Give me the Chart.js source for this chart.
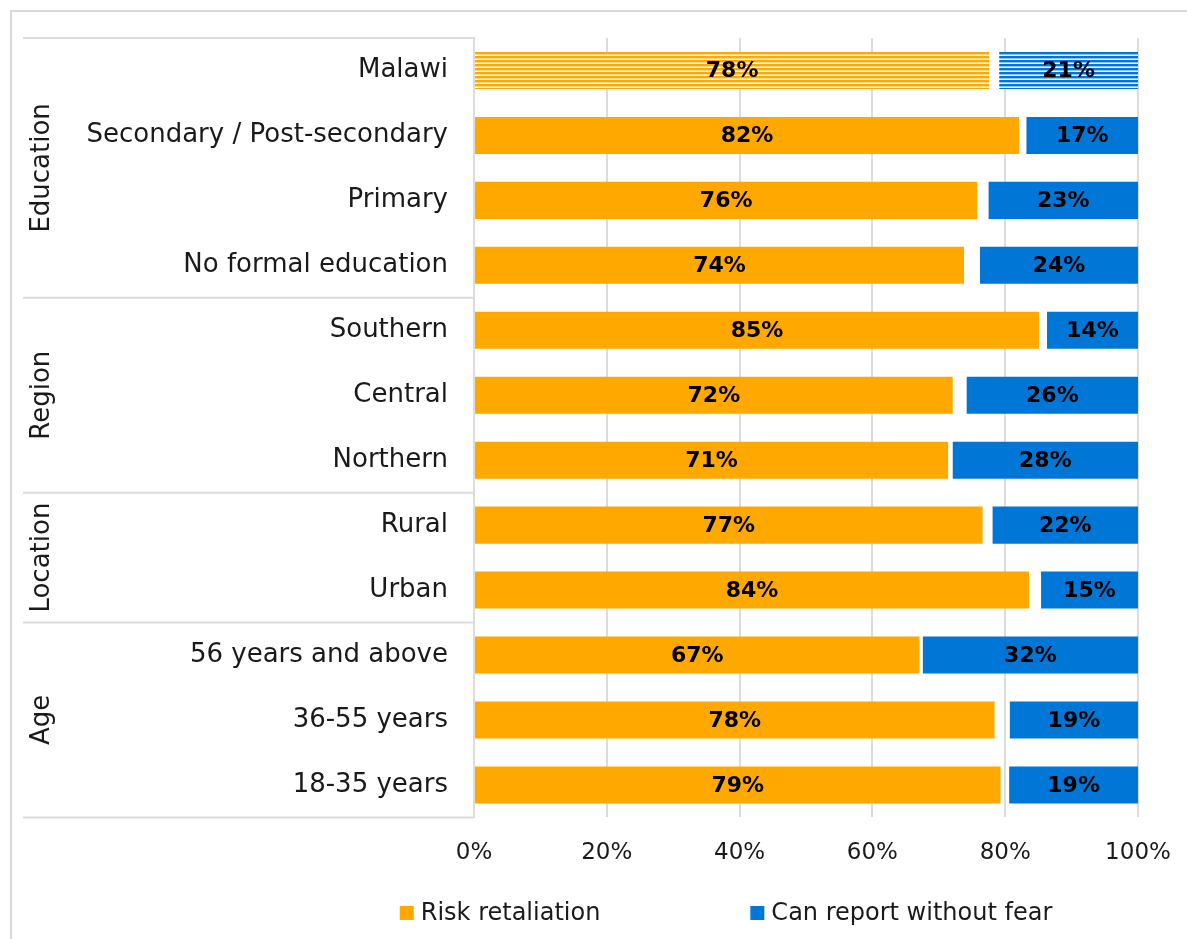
<!DOCTYPE html>
<html>
<head>
<meta charset="utf-8">
<script src="https://cdn.jsdelivr.net/npm/chart.js@4/dist/chart.umd.min.js"></script>
<style>
  html, body { margin: 0; padding: 0; background: #fff; overflow: hidden; }
  #wrap { width: 1187px; height: 939px; }
</style>
</head>
<body>
<div id="wrap"><canvas id="chart1" width="1187" height="939"></canvas></div>
<script>
const categories = [
    "Malawi",
    "Secondary / Post-secondary",
    "Primary",
    "No formal education",
    "Southern",
    "Central",
    "Northern",
    "Rural",
    "Urban",
    "56 years and above",
    "36-55 years",
    "18-35 years",
];
const riskRetaliation = [77.6, 82.1, 75.8, 73.8, 85.1, 72.1, 71.4, 76.6, 83.6, 67.1, 78.4, 79.3];
const reportWithoutFear = [20.9, 16.8, 22.5, 23.8, 13.7, 25.8, 27.9, 21.9, 14.6, 32.4, 19.3, 19.4];
const groupNames = ["Education", "Region", "Location", "Age"];
const groupSizes = [4, 3, 2, 3];
const xTicks = [0, 20, 40, 60, 80, 100];

const ORANGE = "#ffa900";
const BLUE = "#0077d6";
const GRID = "#dcdcdc";
const TEXT = "#1a1a1a";
const FONT = "'DejaVu Sans', sans-serif";

// striped fill for the national total bar
const stripes = (color) => {
    const c = document.createElement("canvas");
    c.width = 4;
    c.height = 4;
    const g = c.getContext("2d");
    g.fillStyle = "#ffffff";
    g.fillRect(0, 0, 4, 4);
    g.fillStyle = color;
    g.fillRect(0, 0, 4, 2);
    g.globalAlpha = 0.45;
    g.fillRect(0, 2, 4, 1);
    return g.createPattern(c, "repeat");
};
const orangeStripes = stripes(ORANGE);
const blueStripes = stripes(BLUE);

const dataLabels = {
    id: "dataLabels",
    afterDatasetsDraw(chart) {
        const ctx = chart.ctx;
        ctx.save();
        ctx.font = "bold 22px " + FONT;
        ctx.fillStyle = "#000";
        ctx.textAlign = "center";
        ctx.textBaseline = "middle";
        chart.data.datasets.forEach((ds, i) => {
            chart.getDatasetMeta(i).data.forEach((bar, j) => {
                const cx = (bar.x + bar.base) / 2;
                ctx.fillText(Math.round(ds.values[j]) + "%", cx, bar.y + 1);
            });
        });
        ctx.restore();
    },
};

const groupsAndFrame = {
    id: "groupsAndFrame",
    beforeDraw(chart) {
        const ctx = chart.ctx;
        ctx.save();
        ctx.fillStyle = "#fff";
        ctx.fillRect(0, 0, chart.width, chart.height);
        ctx.strokeStyle = "#d9d9d9";
        ctx.lineWidth = 2;
        ctx.beginPath();
        ctx.moveTo(11, chart.height + 5);
        ctx.lineTo(11, 11);
        ctx.lineTo(chart.width + 5, 11);
        ctx.stroke();
        ctx.restore();
    },
    afterDraw(chart) {
        const ctx = chart.ctx;
        const area = chart.chartArea;
        const y = chart.scales.y;
        const row = (area.bottom - area.top) / categories.length;
        ctx.save();
        ctx.strokeStyle = GRID;
        ctx.lineWidth = 2;
        ctx.font = "26px " + FONT;
        ctx.fillStyle = TEXT;
        ctx.textAlign = "center";
        ctx.textBaseline = "middle";
        let idx = 0;
        const lineAt = (py) => {
            ctx.beginPath();
            ctx.moveTo(23, py);
            ctx.lineTo(area.left, py);
            ctx.stroke();
        };
        lineAt(area.top);
        groupNames.forEach((name, g) => {
            const first = y.getPixelForValue(idx) - row / 2;
            const last = y.getPixelForValue(idx + groupSizes[g] - 1) + row / 2;
            lineAt(last);
            ctx.save();
            ctx.translate(42, (first + last) / 2);
            ctx.rotate(-Math.PI / 2);
            ctx.fillText(name, 0, 0);
            ctx.restore();
            idx += groupSizes[g];
        });

        // legend
        ctx.font = "24px " + FONT;
        ctx.textAlign = "left";
        const items = chart.data.datasets.map((ds) => ({ label: ds.label, color: ds.legendColor }));
        const box = 14, gapText = 7, gapItem = 150;
        const widths = items.map((it) => box + gapText + ctx.measureText(it.label).width);
        const total = widths.reduce((a, b) => a + b, 0) + gapItem;
        let lx = 726 - total / 2;
        const ly = 913;
        items.forEach((it, k) => {
            ctx.fillStyle = it.color;
            ctx.fillRect(lx, ly - box / 2, box, box);
            ctx.fillStyle = TEXT;
            ctx.fillText(it.label, lx + box + gapText, ly + 1);
            lx += widths[k] + gapItem;
        });
        ctx.restore();
    },
};

new Chart(document.getElementById("chart1"), {
    type: "bar",
    data: {
        labels: categories,
        datasets: [
            {
                label: "Risk retaliation",
                data: riskRetaliation,
                values: riskRetaliation,
                legendColor: ORANGE,
                backgroundColor: (c) => (c.dataIndex === 0 ? orangeStripes : ORANGE),
            },
            {
                label: "Can report without fear",
                data: reportWithoutFear.map((v) => [100 - v, 100]),
                values: reportWithoutFear,
                legendColor: BLUE,
                backgroundColor: (c) => (c.dataIndex === 0 ? blueStripes : BLUE),
            },
        ],
    },
    options: {
        indexAxis: "y",
        responsive: false,
        animation: false,
        grouped: false,
        categoryPercentage: 1,
        barPercentage: 0.57,
        borderSkipped: false,
        layout: {
            padding: { top: 38, right: 49, bottom: 50, left: 0 },
        },
        plugins: {
            legend: { display: false },
            tooltip: { enabled: false },
        },
        scales: {
            x: {
                min: 0,
                max: 100,
                afterBuildTicks: (scale) => {
                    scale.ticks = xTicks.map((v) => ({ value: v }));
                },
                afterFit: (scale) => {
                    scale.paddingLeft = 0;
                    scale.paddingRight = 0;
                },
                grid: { color: GRID, lineWidth: 2, drawTicks: false },
                border: { display: false },
                ticks: {
                    callback: (v) => v + "%",
                    font: { family: FONT, size: 23 },
                    color: TEXT,
                    padding: 22,
                    maxRotation: 0,
                },
            },
            y: {
                afterFit: (scale) => {
                    scale.width = 474;
                    scale.paddingTop = 0;
                    scale.paddingBottom = 0;
                },
                grid: { display: false, drawTicks: false },
                border: { display: true, color: GRID, width: 2 },
                ticks: {
                    font: { family: FONT, size: 26 },
                    color: TEXT,
                    padding: 26,
                    autoSkip: false,
                },
            },
        },
    },
    plugins: [groupsAndFrame, dataLabels],
});
</script>
</body>
</html>
